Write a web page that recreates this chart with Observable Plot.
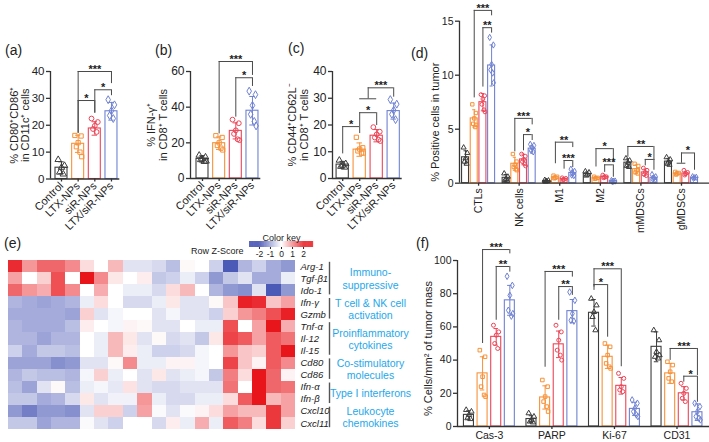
<!DOCTYPE html>
<html><head><meta charset="utf-8">
<script src="https://cdn.jsdelivr.net/npm/d3@7"></script>
<script src="https://cdn.jsdelivr.net/npm/@observablehq/plot@0.6"></script>
<style>
body{margin:0;background:#fff;}
#root{position:relative;width:709px;height:442px;overflow:hidden;font-family:"Liberation Sans",Arial,Helvetica,sans-serif;background:#fff;}
.pl{position:absolute;font-size:14px;color:#222;line-height:1;}
</style></head><body><div id="root"></div>
<script>
const FONT = '"Liberation Sans", Arial, Helvetica, sans-serif';
const groups = ["Control", "LTX-NPs", "siR-NPs", "LTX/siR-NPs"];
const groupColors = ["#3d3d3d", "#f7923a", "#ec4658", "#7082d2"];
const groupSymbols = ["triangle", "square", "circle", "diamond"];

// (a) CD80+CD86+ in CD11c+ cells
const aMeans = [4.2, 13.1, 18.8, 25.2];
const aSds = [2.2, 3.2, 2.5, 3.3];
const aPoints = [[7.2,5.0,4.3,2.5,1.8],[16.2,16.0,13.5,12.0,10.0,8.3],[22.5,21.2,19.8,18.6,17.5],[29.5,27.6,25.4,23.6,22.5]];
const aSig = [[1,3,40,17,35.5,"***"],[1,2,29.2,17,24.5,"*"],[2,3,33.2,24.5,31,"*"]];
const aTicks = [0,10,20,30,40];

// (b) IFN-γ+ in CD8+ T cells
const bMeans = [11, 19.8, 26.7, 38];
const bSds = [1.8, 3.5, 4.5, 8];
const bPoints = [[13,12,11,10.5,9.5,9.7],[24,23,20,18.5,17,16],[33,31,27,25,22,21.5],[49,47,41,36,32,29.5]];
const bSig = [[1,3,65.6,25,57.8,"***"],[2,3,56.5,34.4,51.6,"*"]];
const bTicks = [0,20,40,60];

// (c) CD44+CD62L- in CD8+ T cells
const cMeans = [5.2, 10.8, 16, 25.2];
const cSds = [1.2, 2.5, 2.3, 3];
const cPoints = [[6.8,5.5,5,4.5,4.2],[15.4,11.5,11,10.3,9.5,9.5],[19.2,17.5,16.5,15.3,14.5,14],[29.5,27.8,25.5,24,22]];
const cSig = [[0,1,19.4,9.2,16.8,"*"],[1,2,24.6,19.4,19.8,"*"],[1,2,29.8,29.8,29.8,""],[1.5,3,33.9,29.8,30.4,"***"]];
const cTicks = [0,10,20,30,40];

// (d) % positive cells in tumor
const dCats = ["CTLs", "NK cells", "M1", "M2", "mMDSCs", "gMDSCs"];
const dMeans = [[2.4,6.0,7.5,10.9],[0.5,1.8,2.2,3.2],[0.2,0.55,0.4,0.95],[0.85,0.5,0.6,0.2],[1.9,1.3,1.0,0.5],[2.0,0.9,0.9,0.5]];
const dSds = [[0.6,0.8,0.8,1.9],[0.3,0.6,0.5,0.3],[0.1,0.15,0.1,0.25],[0.2,0.1,0.15,0.06],[0.35,0.4,0.3,0.2],[0.3,0.15,0.2,0.1]];
const dPoints = [
  [[3.3,2.8,2.3,2.0,1.8],[7.3,6.5,6,5.5,5.2,5.4],[8.2,8.1,7.8,7.3,6.8,6.6],[13.5,12.8,11,10.5,10.2,9.3]],
  [[0.9,0.6,0.4,0.3,0.2],[2.7,2.0,1.7,1.5,1.3,1.2],[2.7,2.5,2.2,2.0,1.8,1.6],[3.6,3.5,3.3,3.0,2.9]],
  [[0.3,0.25,0.2,0.15],[0.7,0.6,0.5,0.45],[0.5,0.45,0.35,0.3],[1.3,1.1,0.9,0.75,0.7]],
  [[1.1,1.0,0.8,0.7],[0.6,0.5,0.45,0.4],[0.75,0.6,0.55,0.5],[0.25,0.2,0.18,0.15]],
  [[2.3,2.1,1.9,1.6,1.5],[1.8,1.6,1.2,1.0,0.9],[1.4,1.2,1.0,0.8,0.7],[0.8,0.6,0.5,0.35,0.3]],
  [[2.4,2.2,2.0,1.8,1.7],[1.05,0.95,0.9,0.8],[1.2,1.0,0.9,0.75],[0.6,0.55,0.5,0.45]]
];
const dSig = [[0,1,3,16.0,7.9,15.5,"***"],[0,2,3,14.4,8.9,13.9,"**"],[1,1,3,6.0,2.9,5.4,"***"],[1,2,3,4.5,3.0,3.95,"*"],
  [2,1,3,3.8,1.8,3.3,"**"],[2,2,3,2.1,1.3,1.45,"***"],[3,1,3,3.2,1.5,1.9,"*"],[3,2,3,1.7,1.0,0.55,"***"],
  [4,0,3,3.4,2.4,2.1,"**"],[4,2,3,2.2,1.6,1.2,"*"],[5,1.5,3,2.8,1.85,1.2,"*"],[5,1,2,1.85,1.85,1.85,""]];
const dTicks = [0,5,10,15];

// (f) cells/mm2 of tumor mass
const fCats = ["Cas-3", "PARP", "Ki-67", "CD31"];
const fMeans = [[7,32,54,76],[4.5,17.5,49.5,69.5],[68.5,42,24.5,10.6],[48,32,20,8.6]];
const fSds = [[2.5,10,5,9],[2,7,8,7],[8,7,5,4],[9,6,4,5]];
const fPoints = [
  [[10,9,7,5,4.5],[46,42,30,24,19,18],[61,57,55,50,47],[90.5,85,79,70,66.5,68]],
  [[8,6,4,3,2.5],[28,24,18,15,12,9],[61,57,52,46,43,40],[81,76,68,64,63.5]],
  [[77,73,69,66,58],[50,48,43,38,36,35],[32,29,24,22,21],[16,14,11,9,7,6]],
  [[58,52,45,42,41,43],[39,37,33,29,27],[26,23,20,17,15],[14,12,9,6,5,4]]
];
const fSig = [[0,1,3,106.6,50,104,"***"],[0,2,3,96.4,64,93,"**"],[1,1,3,93.4,35.7,90,"***"],[1,2,3,84.3,64,79,"**"],
  [2,0,2,95,84,36,"***"],[2,0,1,85.5,82,53.8,"*"],[3,1,3,47,39.8,30.7,"***"],[3,2,3,30.3,26.7,14.6,"*"]];
const fTicks = [0,20,40,60,80,100];

// (e) heatmap, row z-scores (5 mice per group, groups in order)
const genes = ["Arg-1","Tgf-β1","Ido-1","Ifn-γ","Gzmb","Tnf-α","Il-12","Il-15","Cd80","Cd86","Ifn-α","Ifn-β","Cxcl10","Cxcl11"];
const zScores = [
  [1.8,0.9,1.3,1.3,1.0, 0.3,0.0,0.6,-0.3,-0.3, -0.4,-0.7,0.05,0.0,-0.5, -1.8,-0.8,-0.5,-0.9,-1.1],
  [0.8,0.0,0.4,1.5,0.0, 2.2,1.0,0.2,0.0,0.15, -0.6,-0.5,-0.2,-0.5,-1.1, -0.6,-0.3,-0.9,-0.9,-0.2],
  [1.3,0.9,0.7,1.5,1.0, 0.0,0.7,0.0,-0.2,-0.2, -0.4,0.3,0.6,0.0,-0.8, -1.1,-1.2,-0.3,-1.8,-1.1],
  [-0.8,-0.9,-1.0,-0.9,-0.8, -0.2,0.3,0.0,-0.4,-0.4, -0.2,0.2,-0.3,-0.3,0.05, 0.5,1.9,1.8,0.5,0.8],
  [-0.9,-0.9,-0.9,-0.9,-1.0, 0.4,-0.3,-0.1,0.0,0.0, -0.3,-0.1,-0.3,-0.3,-0.5, 0.4,0.9,1.1,1.5,1.9],
  [-0.8,-0.9,-0.9,-0.9,-0.7, 0.15,0.0,-0.1,0.1,0.05, -0.3,-0.3,0.0,-0.2,-0.2, 1.5,0.0,0.8,2.0,0.7],
  [-0.8,-0.8,-1.0,-0.8,-0.8, 0.0,-0.2,0.6,0.2,-0.3, 0.05,-0.4,-0.3,-0.6,0.2, 1.6,1.4,0.8,1.4,1.2],
  [-0.5,-0.9,-0.6,-0.6,-0.7, 0.0,-0.2,0.6,0.15,-0.2, -0.5,-0.5,-0.4,-0.1,0.0, 0.9,0.5,0.4,1.4,2.0],
  [-1.0,-1.0,-1.0,-1.2,-1.1, -0.3,-0.3,0.05,1.0,-0.2, -0.2,0.1,0.1,-0.1,0.0, 1.6,0.5,0.1,1.4,1.0],
  [-0.8,-0.6,-0.7,-0.7,-0.8, -0.1,0.4,-0.2,0.0,-0.3, 0.2,-0.3,-0.2,-0.1,-0.6, 1.1,0.3,2.1,1.3,0.1],
  [-0.7,-1.0,-0.3,0.05,-0.7, -0.2,-0.1,-0.25,0.25,-0.3, -0.4,-0.4,-0.3,-0.3,-0.3, 1.2,0.0,2.1,1.3,1.2],
  [-0.6,-0.6,-0.9,-0.8,-0.4, 0.2,-0.3,-0.15,-0.15,0.9, -0.2,-0.4,-0.4,-0.2,-0.2, 0.3,1.4,2.1,0.6,0.8],
  [-1.1,-1.4,-1.1,-1.1,-1.2, -0.3,0.4,0.4,-0.5,0.8, -0.05,-0.3,-0.05,0.1,0.3, 0.8,0.6,0.6,1.7,0.8],
  [-0.6,-0.6,-1.0,-0.8,-0.8, -0.05,-0.3,-0.5,0.0,0.0, -0.4,0.15,-0.2,0.7,-0.2, 1.4,1.1,0.3,1.7,0.4]
];
const geneGroupLabels = ["Immuno-\nsuppressive","T cell & NK cell\nactivation","Proinflammatory\ncytokines","Co-stimulatory\nmolecules","Type I interferons","Leukocyte\nchemokines"];
const geneGroupStarts = [0, 3, 5, 8, 10, 12];
const geneGroupEnds = [3, 5, 8, 10, 12, 14];
const keyTicks = [-2, -1, 0, 1, 2];

const root = document.getElementById("root");
function place(el, left, top) {
  el.style.position = "absolute"; el.style.left = left + "px"; el.style.top = top + "px";
  root.appendChild(el);
}
function letter(t, left, top) {
  const d = document.createElement("div"); d.className = "pl"; d.textContent = t;
  d.style.left = left + "px"; d.style.top = top + "px"; root.appendChild(d);
}
const baseStyle = {fontFamily: FONT, background: "transparent", overflow: "visible", color: "#222"};
const ink = "#333";

function barPanel(cfg) {
  const multi = cfg.cats != null;
  const nc = multi ? cfg.cats.length : 1;
  const xOf = (c, g) => multi ? c + (g - 1.5) * cfg.step : g;
  const bars = [], pts = [];
  const jitter = [-0.55, 0.5, 0.0, -0.3, 0.3, 0.6];
  for (let c = 0; c < nc; c++) groups.forEach((grp, g) => {
    const mean = multi ? cfg.means[c][g] : cfg.means[g];
    const sd = multi ? cfg.sds[c][g] : cfg.sds[g];
    const x = xOf(c, g);
    bars.push({grp, x, mean, sd});
    const vals = multi ? cfg.points[c][g] : cfg.points[g];
    vals.forEach((v, k) => pts.push({grp, x: x + jitter[k % jitter.length] * cfg.half, v}));
  });
  const sigs = cfg.sigs.map(s => {
    const [c, a, b, level, l, r, label] = multi ? s : [0, ...s];
    return {x1: xOf(c, a), x2: xOf(c, b), level, l, r, label};
  });
  const tickPos = multi ? d3.range(nc) : d3.range(groups.length);
  const tickLabels = multi ? cfg.cats : groups;
  const hw = cfg.half, cap = cfg.half * 0.45;
  const p = Plot.plot({
    width: cfg.width, height: cfg.height,
    marginLeft: cfg.ml, marginRight: cfg.mr, marginTop: cfg.mt, marginBottom: cfg.mb,
    x: {domain: cfg.xDomain},
    y: {domain: cfg.yDomain},
    color: {domain: groups, range: groupColors},
    symbol: {domain: groups, range: groupSymbols},
    style: {...baseStyle, fontSize: cfg.tickFont + "px"},
    marks: [
      Plot.rect(bars, {x1: d => d.x - hw, x2: d => d.x + hw, y1: 0, y2: "mean", stroke: "grp", fill: "white", strokeWidth: 1.1}),
      Plot.ruleX(bars, {x: "x", y1: d => d.mean - d.sd, y2: d => d.mean + d.sd, stroke: "grp", strokeWidth: 1}),
      Plot.ruleY(bars, {y: d => d.mean + d.sd, x1: d => d.x - cap, x2: d => d.x + cap, stroke: "grp", strokeWidth: 1}),
      Plot.ruleY(bars, {y: d => d.mean - d.sd, x1: d => d.x - cap, x2: d => d.x + cap, stroke: "grp", strokeWidth: 1}),
      Plot.dot(pts, {x: "x", y: "v", stroke: "grp", symbol: "grp", r: cfg.r, strokeWidth: 1}),
      Plot.ruleY([0], {stroke: ink, strokeWidth: 1.3}),
      Plot.ruleX([cfg.xDomain[0]], {stroke: ink, strokeWidth: 1.3}),
      Plot.ruleY(sigs, {y: "level", x1: "x1", x2: "x2", stroke: "#4a4a4a", strokeWidth: 1}),
      Plot.ruleX(sigs, {x: "x1", y1: "l", y2: "level", stroke: "#4a4a4a", strokeWidth: 1}),
      Plot.ruleX(sigs, {x: "x2", y1: "r", y2: "level", stroke: "#4a4a4a", strokeWidth: 1}),
      Plot.text(sigs, {x: d => (d.x1 + d.x2) / 2, y: "level", text: "label", dy: -2, fontSize: 11, fontWeight: "bold", fill: "#222"}),
      Plot.axisY({ticks: cfg.yTicks, tickSize: 4, tickPadding: 2, label: null, stroke: ink, strokeWidth: 1.3}),
      Plot.axisX({ticks: tickPos, tickFormat: d => tickLabels[d], tickRotate: cfg.rot, tickSize: 3, tickPadding: 2, label: null, fontSize: cfg.xFont, stroke: ink, strokeWidth: 1.3}),
      Plot.text([cfg.title], {text: d => d, frameAnchor: "left", textAnchor: "middle", rotate: -90, dx: cfg.tdx, dy: cfg.tdy || 0, fontSize: cfg.titleFont || 11, lineHeight: cfg.lh || 1.1, fill: "#222"})
    ]
  });
  place(p, cfg.left, cfg.top);
}

// (a)
barPanel({left: 0, top: 0, width: 125, height: 240, ml: 50, mr: 5.7, mt: 71, mb: 61.5,
  xDomain: [-0.66, 3.5], yDomain: [0, 40], yTicks: aTicks, means: aMeans, sds: aSds, points: aPoints, sigs: aSig,
  half: 0.36, r: 2.4, tickFont: 11.5, xFont: 11, rot: -45, title: "% CD80⁺CD86⁺\nin CD11c⁺ cells", tdx: -31, lh: 1.0});
// (b)
barPanel({left: 140, top: 0, width: 125, height: 240, ml: 50, mr: 4.7, mt: 71, mb: 62,
  xDomain: [-0.72, 3.5], yDomain: [0, 60], yTicks: bTicks, means: bMeans, sds: bSds, points: bPoints, sigs: bSig,
  half: 0.36, r: 2.4, tickFont: 12, xFont: 11, rot: -45, title: "% IFN-γ⁺\nin CD8⁺ T cells", tdx: -33});
// (c)
barPanel({left: 282, top: 0, width: 125, height: 240, ml: 50, mr: 5.3, mt: 71, mb: 62,
  xDomain: [-0.6, 3.5], yDomain: [0, 40], yTicks: cTicks, means: cMeans, sds: cSds, points: cPoints, sigs: cSig,
  half: 0.36, r: 2.4, tickFont: 12, xFont: 11, rot: -45, title: "% CD44⁺CD62L⁻\nin CD8⁺ T cells", tdx: -34});
// (d)
barPanel({left: 380, top: 0, width: 329, height: 240, ml: 79, mr: 0, mt: 20.7, mb: 57.3,
  xDomain: [-0.47, 5.69], yDomain: [0, 15], yTicks: dTicks, cats: dCats, means: dMeans, sds: dSds, points: dPoints, sigs: dSig,
  step: 0.214, half: 0.086, r: 1.9, tickFont: 10.5, xFont: 10.5, rot: -90, title: "% Positive cells in tumor", tdx: -24, tdy: 20});
// (f)
barPanel({left: 380, top: 220, width: 329, height: 222, ml: 77, mr: 0, mt: 40, mb: 16,
  xDomain: [-0.51, 3.52], yDomain: [0, 100], yTicks: fTicks, cats: fCats, means: fMeans, sds: fSds, points: fPoints, sigs: fSig,
  step: 0.218, half: 0.08, r: 2, tickFont: 10.5, xFont: 10.5, rot: 0, title: "% Cells/mm² of tumor mass", tdx: -29, tdy: 5});

// (e) heatmap
const colorOpts = {type: "linear", domain: [-2, 0, 2], range: ["#3746af", "#ffffff", "#e8151b"], interpolate: "rgb", clamp: true};
const nCols = zScores[0].length;
const cells = [];
zScores.forEach((row, r) => row.forEach((z, c) => cells.push({r, c, z})));
const geneGroups = geneGroupLabels.map((label, i) => ({label, start: geneGroupStarts[i], end: geneGroupEnds[i]}));
const heat = Plot.plot({
  width: 450, height: 217, marginLeft: 8, marginRight: 155, marginTop: 35, marginBottom: 13,
  x: {domain: [0, nCols], axis: null},
  y: {domain: [0, genes.length], reverse: true, axis: null},
  color: colorOpts,
  style: {...baseStyle, fontSize: "10px"},
  marks: [
    Plot.rect(cells, {x1: "c", x2: d => d.c + 1, y1: "r", y2: d => d.r + 1, fill: "z", shapeRendering: "crispEdges"}),
    Plot.text(genes, {frameAnchor: "right", y: (d, i) => i + 0.5, text: d => d, dx: 5, textAnchor: "start", fontStyle: "italic", fontSize: 9.5, fill: "#222"}),
    Plot.ruleX(geneGroups, {x: nCols, y1: d => d.start + 0.15, y2: d => d.end - 0.15, dx: 34, stroke: "#555", strokeWidth: 1.4}),
    Plot.text(geneGroups, {x: nCols, y: d => (d.start + d.end) / 2, text: "label", dx: 75, fill: "#1ea8ea", fontSize: 10.5, lineHeight: 1.15})
  ]
});
place(heat, 0, 225);

// color key
const keySteps = d3.range(-2.9, 2.9, 0.05);
const key = Plot.plot({
  width: 130, height: 34, marginLeft: 59, marginRight: 7, marginTop: 15, marginBottom: 13,
  x: {domain: [-2.9, 2.9]},
  color: colorOpts,
  style: {...baseStyle, fontSize: "8.5px"},
  marks: [
    Plot.rect(keySteps, {x1: d => d, x2: d => d + 0.06, fill: d => d}),
    Plot.axisX({ticks: keyTicks, tickFormat: d => String(d), tickSize: 2, tickPadding: 1, label: null, fontSize: 8.5}),
    Plot.text(["Row Z-Score"], {text: d => d, frameAnchor: "bottom-left", textAnchor: "end", dx: -6, dy: 6, fontSize: 9, fill: "#222"}),
    Plot.text(["Color key"], {text: d => d, frameAnchor: "top", lineAnchor: "bottom", dy: -1, fontSize: 9, fill: "#222"})
  ]
});
place(key, 190, 226);

letter("(a)", 5, 43);
letter("(b)", 155, 43);
letter("(c)", 288, 41);
letter("(d)", 411, 46);
letter("(e)", 4, 236);
letter("(f)", 416, 236);
</script></body></html>
